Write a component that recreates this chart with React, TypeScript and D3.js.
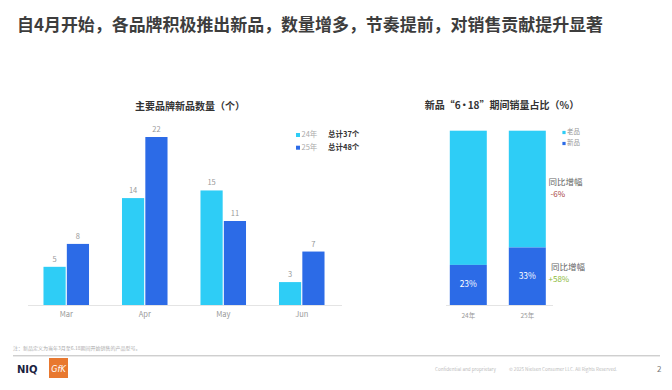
import React from "react";
import * as d3 from "d3";

// ---- data ----
const months = ["Mar", "Apr", "May", "Jun"];
const years = ["24年", "25年"];
const count24 = [5, 14, 15, 3];
const count25 = [8, 22, 11, 7];
const totals = ["总计37个", "总计48个"];

const shareYears = ["24年", "25年"];
const shareNew = [23, 33];
const shareOld = [77, 67];
const shareLegend = ["老品", "新品"];
const yoyLabels = ["-6%", "+58%"];

const LIGHT = "#2ECDF6";
const DARK = "#2C6BE7";
const FONT = "'Noto Sans CJK SC', 'Noto Sans', sans-serif";

export default function App() {
  const W = 672;
  const H = 390;

  // ---- left chart scales ----
  const x0 = d3.scaleBand().domain(months).range([27, 341]).paddingInner(0.42).paddingOuter(0.21);
  const x1 = d3.scaleBand().domain(years).range([0, x0.bandwidth()]).paddingInner(0.05);
  const y = d3.scaleLinear().domain([0, 22]).range([305, 137]);
  const series = [count24, count25];

  // ---- right chart scales ----
  const xs = d3.scaleBand().domain(shareYears).range([438, 557.6]).paddingInner(0.373).paddingOuter(0.2);
  const ys = d3.scaleLinear().domain([0, 100]).range([305, 130.7]);

  return (
    <svg width={W} height={H} style={{ position: "absolute", left: 0, top: 0, background: "#fff" }} fontFamily={FONT}>
      {/* headline */}
      <text x={17} y={31} fontSize={17} fontWeight="bold" fill="#3d3d3d" textLength={586} lengthAdjust="spacingAndGlyphs">
        自4月开始，各品牌积极推出新品，数量增多，节奏提前，对销售贡献提升显著
      </text>

      {/* ---- left chart ---- */}
      <text x={190} y={107} fontSize={10} fontWeight="bold" fill="#333" textAnchor="middle" dominantBaseline="middle">
        主要品牌新品数量（个）
      </text>
      <line x1={28} x2={342} y1={305.5} y2={305.5} stroke="#ddd" strokeWidth={0.8} />
      {months.map((m, i) => (
        <g key={m} transform={`translate(${x0(m)},0)`}>
          {years.map((yr, j) => {
            const v = series[j][i];
            return (
              <g key={yr}>
                <rect x={x1(yr)} y={y(v)} width={x1.bandwidth()} height={y(0) - y(v)} fill={j === 0 ? LIGHT : DARK} />
                <text x={(x1(yr) || 0) + x1.bandwidth() / 2} y={y(v) - 5} fontSize={7.5} fill="#999" textAnchor="middle">
                  {v}
                </text>
              </g>
            );
          })}
          <text x={x0.bandwidth() / 2} y={317} fontSize={7.5} fill="#999" textAnchor="middle">
            {m}
          </text>
        </g>
      ))}
      {/* legend */}
      {years.map((yr, j) => (
        <g key={yr} transform={`translate(298,${135 + j * 12.7})`}>
          <rect x={-2} y={-2} width={4} height={4} fill={j === 0 ? LIGHT : DARK} />
          <text x={3.5} y={0} fontSize={7.5} fill="#aaa" dominantBaseline="middle">
            {yr}
          </text>
          <text x={30} y={0} fontSize={7.5} fontWeight="bold" fill="#333" dominantBaseline="middle">
            {totals[j]}
          </text>
        </g>
      ))}

      {/* ---- right chart ---- */}
      <text x={502} y={106} fontSize={10} fontWeight="bold" fill="#333" textAnchor="middle" dominantBaseline="middle">
        新品“6<tspan dx={-1.5}>•</tspan><tspan dx={-1.5}>18</tspan>”期间销量占比（%）
      </text>
      <line x1={446} x2={553} y1={305.5} y2={305.5} stroke="#ddd" strokeWidth={0.8} />
      {shareYears.map((yr, i) => (
        <g key={yr}>
          <rect x={xs(yr)} y={ys(shareNew[i] + shareOld[i])} width={xs.bandwidth()} height={ys(shareNew[i]) - ys(100)} fill={LIGHT} />
          <rect x={xs(yr)} y={ys(shareNew[i])} width={xs.bandwidth()} height={ys(0) - ys(shareNew[i])} fill={DARK} />
          <text
            x={(xs(yr) || 0) + xs.bandwidth() / 2}
            y={ys(shareNew[i] / 2)}
            fontSize={8.5}
            fill="#fff"
            textAnchor="middle"
            dominantBaseline="middle"
          >
            {shareNew[i]}%
          </text>
          <text x={(xs(yr) || 0) + xs.bandwidth() / 2} y={318} fontSize={6.5} fill="#999" textAnchor="middle">
            {yr}
          </text>
        </g>
      ))}
      {shareLegend.map((s, j) => (
        <g key={s} transform={`translate(564,${132.5 + j * 11})`}>
          <rect x={-1.6} y={-1.6} width={3.2} height={3.2} fill={j === 0 ? LIGHT : DARK} />
          <text x={3} y={0} fontSize={6.5} fill="#999" dominantBaseline="middle">
            {s}
          </text>
        </g>
      ))}
      {/* yoy annotations */}
      <text x={548.5} y={183} fontSize={8.5} fill="#666" dominantBaseline="middle">同比增幅</text>
      <text x={550.5} y={195} fontSize={8} fill="#A7423D" dominantBaseline="middle">{yoyLabels[0]}</text>
      <text x={551} y={267.5} fontSize={8.5} fill="#666" dominantBaseline="middle">同比增幅</text>
      <text x={548.5} y={279.5} fontSize={8} fill="#8CBA3A" dominantBaseline="middle">{yoyLabels[1]}</text>

      {/* ---- footer ---- */}
      <text x={13} y={349.5} fontSize={5} fill="#aaa">注：新品定义为当年3月至6.18期间开始销售的产品型号。</text>
      <line x1={13} x2={660} y1={355.8} y2={355.8} stroke="#aaa" strokeWidth={0.8} />
      <text x={17} y={373} fontSize={10} fontWeight="bold" fill="#1a2240" fontFamily="'DejaVu Sans', sans-serif">NIQ</text>
      <rect x={49} y={358} width={19} height={20} fill="#E8782F" />
      <text x={58.5} y={372} fontSize={8} fill="#fff" fontStyle="italic" textAnchor="middle" fontFamily="'DejaVu Sans', sans-serif">GfK</text>
      <text x={435} y={370.5} fontSize={4.6} fill="#bbb">Confidential and proprietary</text>
      <text x={509} y={370.5} fontSize={4.6} fill="#bbb">© 2025 Nielsen Consumer LLC. All Rights Reserved.</text>
      <text x={657} y={371.5} fontSize={8} fill="#777">2</text>
    </svg>
  );
}
